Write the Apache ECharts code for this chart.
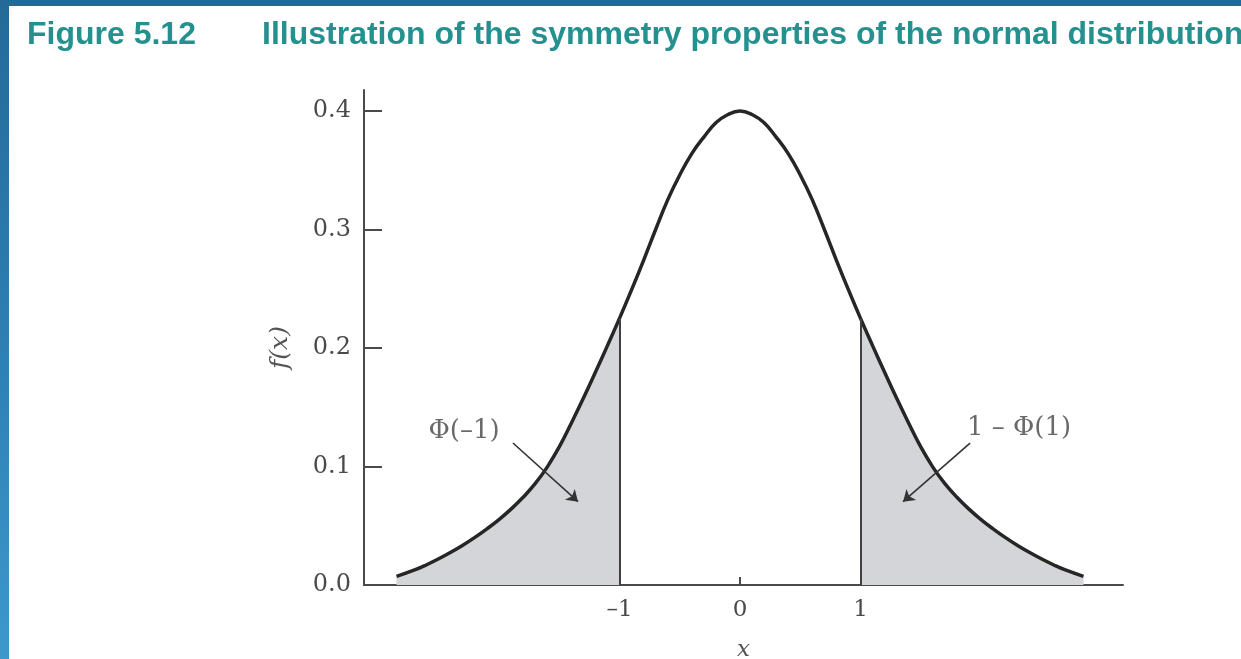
<!DOCTYPE html>
<html>
<head>
<meta charset="utf-8">
<script src="https://cdn.jsdelivr.net/npm/echarts@6/dist/echarts.min.js"></script>
<style>
  html, body { margin: 0; padding: 0; background: #ffffff; }
  #chart { position: absolute; left: 0; top: 0; width: 1241px; height: 659px; }
  .frame-top { position: absolute; left: 0; top: 0; width: 1241px; height: 6px; background: #236a98; z-index: 2; }
  .frame-left { position: absolute; left: 0; top: 0; width: 9px; height: 659px;
                background: linear-gradient(to bottom, #236a98 0%, #2f80b4 55%, #3d98cb 100%); z-index: 2; }
</style>
</head>
<body>
<div id="chart"></div>
<div class="frame-top"></div>
<div class="frame-left"></div>
<script>
// Density curve f(x), sampled along x
const xs = [-2.85, -2.7, -2.6, -2.5, -2.4, -2.3, -2.2, -2.1, -2.0, -1.9, -1.8, -1.7, -1.6, -1.5, -1.4, -1.3, -1.2, -1.1, -1.0,
            -0.9, -0.8, -0.7, -0.6, -0.5, -0.4, -0.3, -0.2, -0.1, 0,
            0.1, 0.2, 0.3, 0.4, 0.5, 0.6, 0.7, 0.8, 0.9,
            1.0, 1.1, 1.2, 1.3, 1.4, 1.5, 1.6, 1.7, 1.8, 1.9, 2.0, 2.1, 2.2, 2.3, 2.4, 2.5, 2.6, 2.7, 2.85];
const fx = [0.0073, 0.0127, 0.0171, 0.0221, 0.0276, 0.0336, 0.0402, 0.0474, 0.0552, 0.0640, 0.0740, 0.0855, 0.0995, 0.1165, 0.1365, 0.1575, 0.1795, 0.2020, 0.225,
            0.249, 0.274, 0.300, 0.325, 0.346, 0.364, 0.378, 0.390, 0.397, 0.400,
            0.397, 0.390, 0.378, 0.364, 0.346, 0.325, 0.300, 0.274, 0.249,
            0.225, 0.2020, 0.1795, 0.1575, 0.1365, 0.1165, 0.0995, 0.0855, 0.0740, 0.0640, 0.0552, 0.0474, 0.0402, 0.0336, 0.0276, 0.0221, 0.0171, 0.0127, 0.0073];

// Cut points of the two shaded tails
const cutLeft = -1;
const cutRight = 1;

// Axis ticks and labels
const yTicks = [0, 0.1, 0.2, 0.3, 0.4];
const xLabels = [-1, 0, 1];
const xTicks = [0];

// Tail annotations: text, text anchor, arrow start, arrow end (data coordinates)
const tailLabels = ['Φ(–1)', '1 – Φ(1)'];
const labelAnchors = [[-2.29, 0.130], [2.315, 0.1325]];
const arrowStarts = [[-1.884, 0.1198], [1.909, 0.1198]];
const arrowEnds = [[-1.344, 0.0703], [1.353, 0.0703]];

const titleNumber = 'Figure 5.12';
const titleText = 'Illustration of the symmetry properties of the normal distribution';

const curve = xs.map((x, i) => [x, fx[i]]);
const leftTail = curve.filter(p => p[0] <= cutLeft);
const rightTail = curve.filter(p => p[0] >= cutRight);
const valueAt = x => fx[xs.indexOf(x)];

const serif = 'DejaVu Serif';
const inkAxis = '#4a4a4a';
const inkCurve = '#262626';
const shade = '#d4d5d8';
const teal = '#24918f';
const smoothness = 0.45;

function tailSeries(data, cut) {
  return {
    type: 'line',
    data: data,
    smooth: smoothness,
    symbol: 'none',
    silent: true,
    lineStyle: { width: 0 },
    areaStyle: { color: shade, opacity: 1 },
    z: 1,
    markLine: {
      silent: true,
      symbol: 'none',
      label: { show: false },
      lineStyle: { color: '#3f3f3f', width: 2, type: 'solid' },
      data: [[{ coord: [cut, 0] }, { coord: [cut, valueAt(cut)] }]]
    }
  };
}

const chart = echarts.init(document.getElementById('chart'), null, { renderer: 'canvas' });

chart.setOption({
  backgroundColor: '#ffffff',
  animation: false,
  title: [
    {
      text: titleNumber, left: 27, top: 19, padding: 0,
      textStyle: { fontFamily: 'Liberation Sans', fontWeight: 'bold', fontSize: 32, color: teal }
    },
    {
      text: titleText, left: 262, top: 19, padding: 0,
      textStyle: { fontFamily: 'Liberation Sans', fontWeight: 'bold', fontSize: 32, color: teal }
    }
  ],
  grid: { left: 364, right: 118, top: 90, bottom: 74, containLabel: false, outerBoundsMode: 'none' },
  xAxis: {
    type: 'value',
    min: -3.12, max: 3.178,
    name: 'x',
    nameLocation: 'middle',
    nameGap: 54,
    nameTextStyle: { fontFamily: serif, fontStyle: 'italic', fontSize: 23, color: '#555' },
    axisLine: { show: true, onZero: false, lineStyle: { color: inkAxis, width: 2 } },
    axisTick: { show: true, inside: true, length: 8, customValues: xTicks, lineStyle: { color: inkAxis, width: 2 } },
    axisLabel: {
      show: true, customValues: xLabels, margin: 14,
      fontFamily: serif, fontSize: 23, color: '#4a4a4a',
      formatter: v => (v < 0 ? '–' + Math.abs(v) : String(v))
    },
    splitLine: { show: false }
  },
  yAxis: {
    type: 'value',
    min: 0, max: 0.4177,
    name: 'f(x)',
    nameLocation: 'middle',
    nameGap: 71,
    nameRotate: 90,
    nameTextStyle: { fontFamily: serif, fontStyle: 'italic', fontSize: 25, color: '#555', padding: [0, 20, 0, 0] },
    axisLine: { show: true, onZero: false, lineStyle: { color: inkAxis, width: 2 } },
    axisTick: { show: true, inside: true, length: 18, customValues: yTicks, lineStyle: { color: inkAxis, width: 2 } },
    axisLabel: {
      show: true, customValues: yTicks, margin: 13,
      fontFamily: serif, fontSize: 24, color: '#4a4a4a',
      formatter: v => v.toFixed(1)
    },
    splitLine: { show: false }
  },
  series: [
    tailSeries(leftTail, cutLeft),
    tailSeries(rightTail, cutRight),
    {
      type: 'line',
      data: curve,
      smooth: smoothness,
      symbol: 'none',
      silent: true,
      lineStyle: { color: inkCurve, width: 3.5 },
      z: 3,
      markLine: {
        silent: true,
        symbol: ['none', 'arrow'],
        symbolSize: 11,
        label: { show: false },
        lineStyle: { color: '#333', width: 1.6, type: 'solid' },
        data: arrowStarts.map((s, i) => [{ coord: s }, { coord: arrowEnds[i] }])
      }
    },
    {
      type: 'scatter',
      data: labelAnchors.map((p, i) => ({ value: p, name: tailLabels[i] })),
      symbolSize: 0,
      silent: true,
      z: 4,
      label: {
        show: true, position: 'inside',
        formatter: p => p.name,
        fontFamily: serif, fontSize: 26, color: '#444'
      }
    }
  ]
});
</script>
</body>
</html>
